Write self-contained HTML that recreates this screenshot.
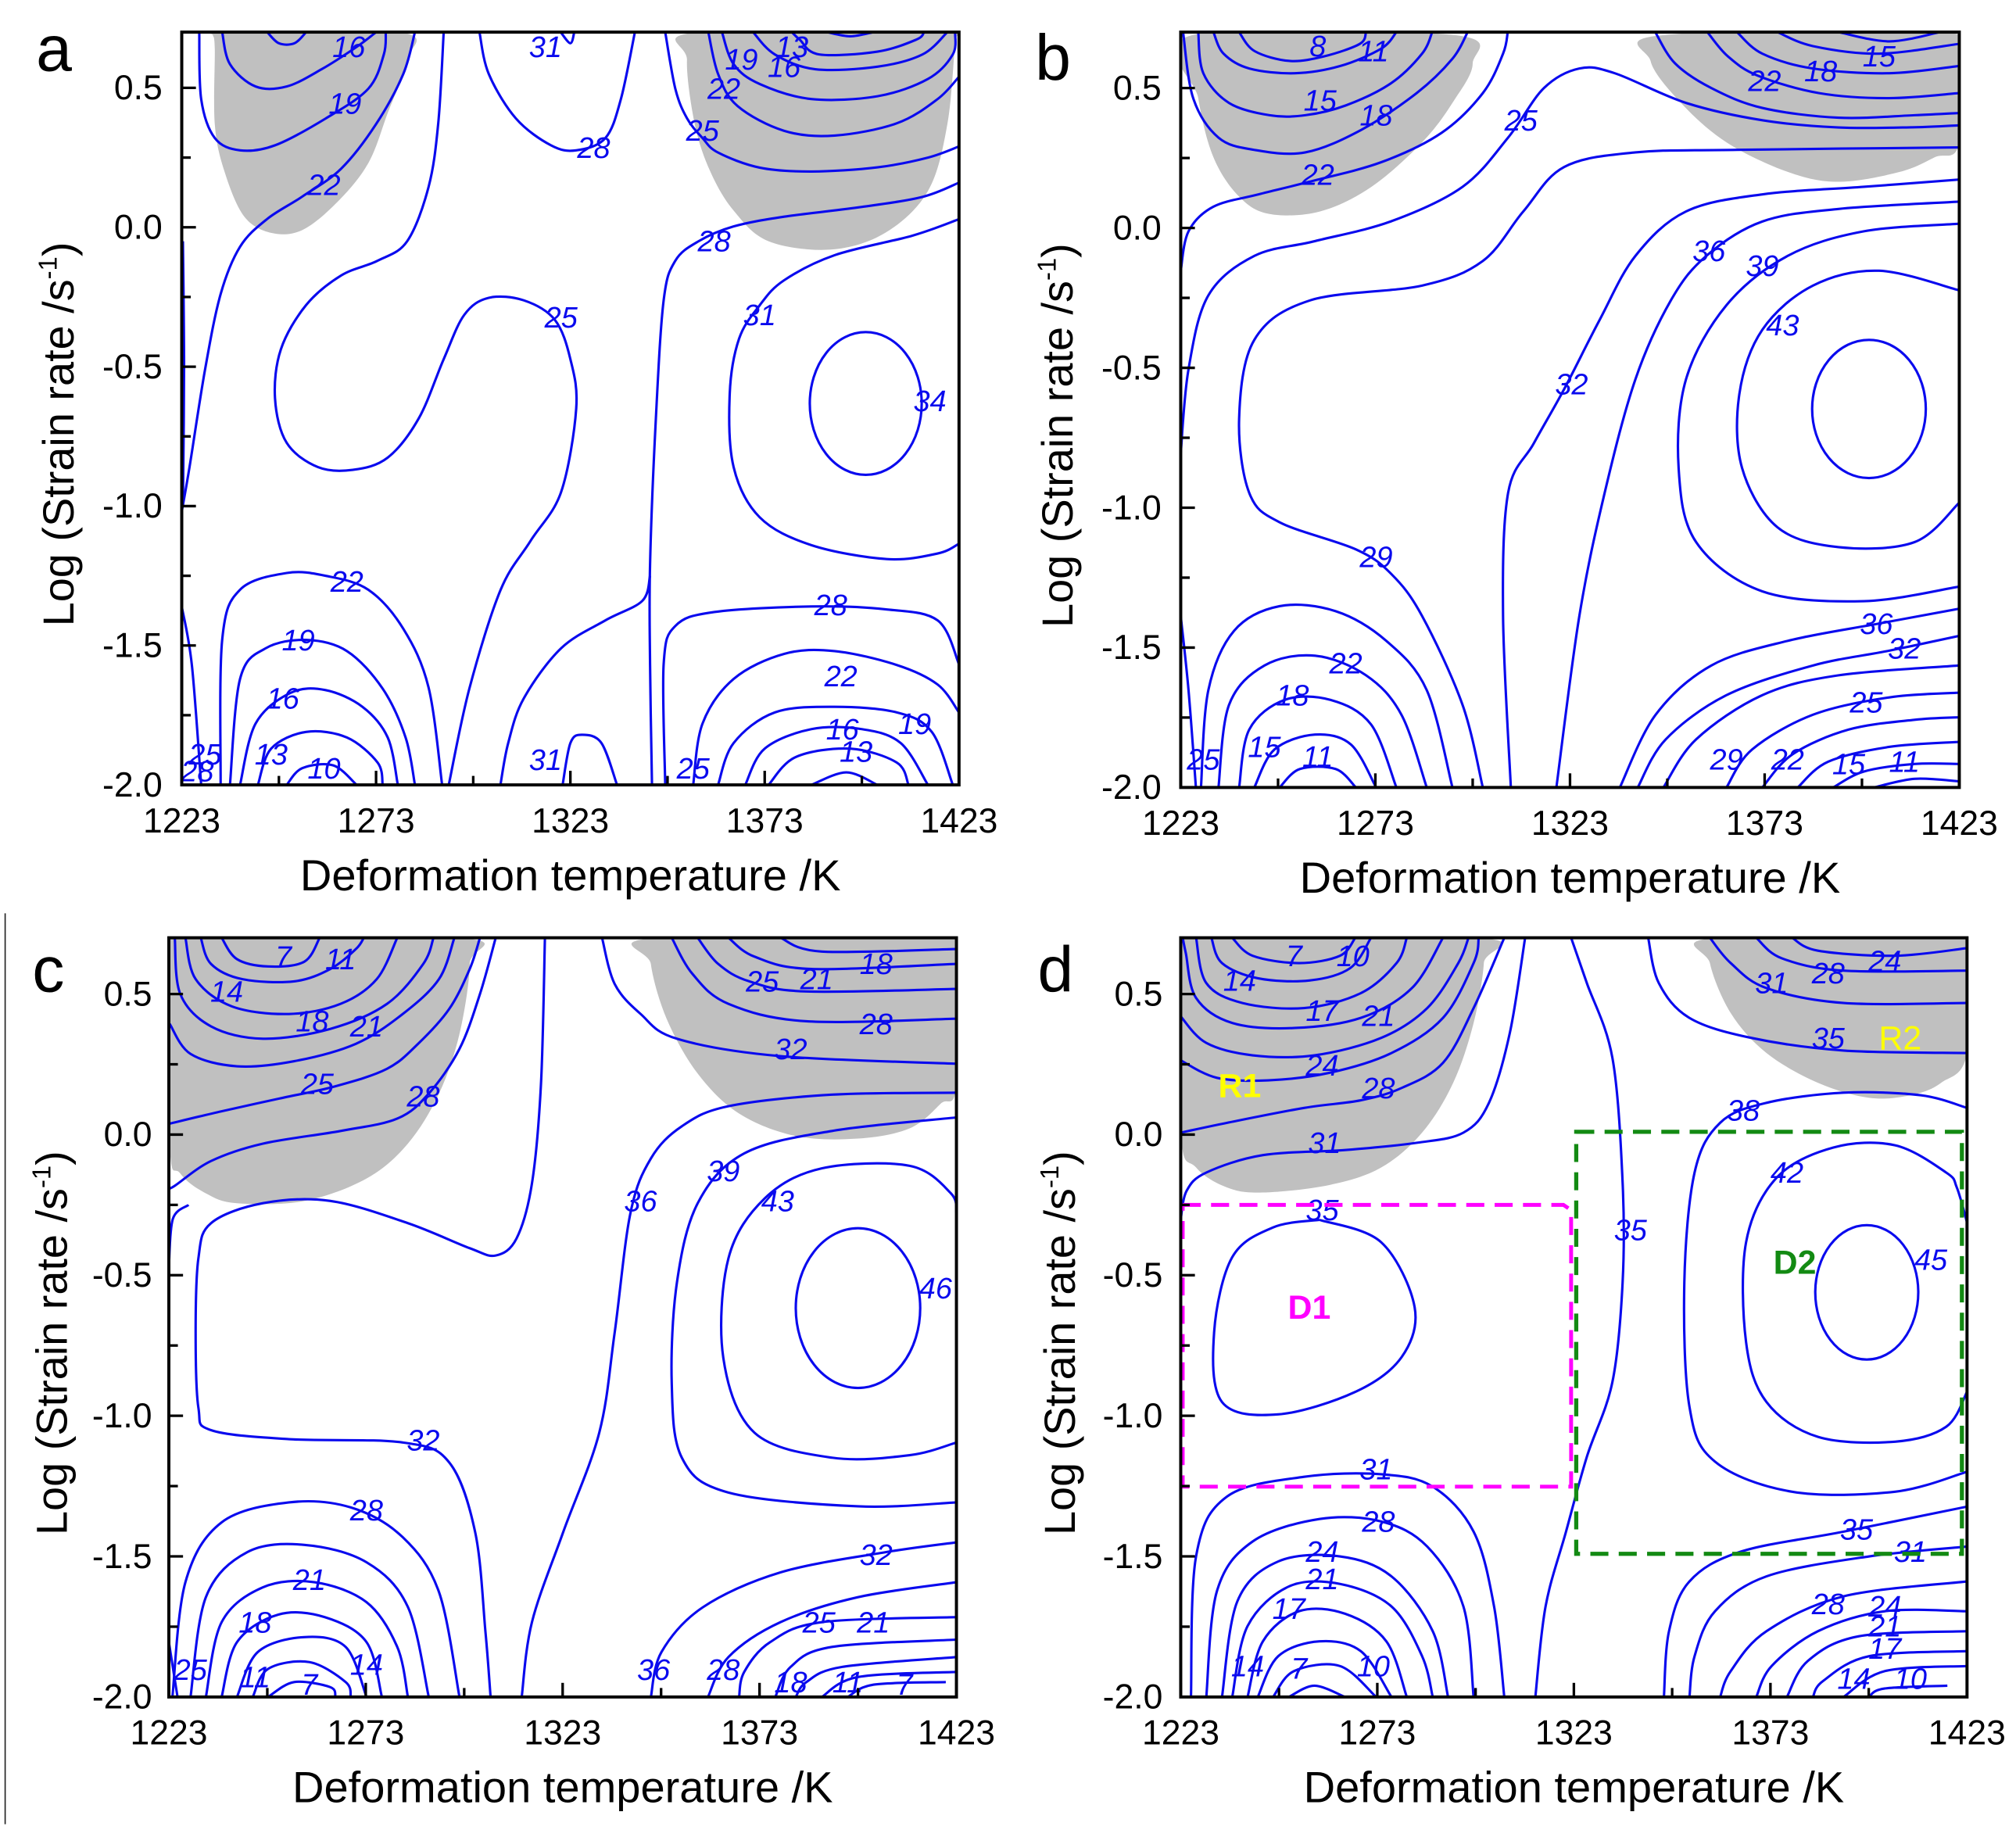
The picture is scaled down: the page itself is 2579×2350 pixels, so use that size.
<!DOCTYPE html>
<html><head><meta charset="utf-8"><title>Processing maps</title>
<style>
html,body{margin:0;padding:0;background:#fff;}
svg{display:block;}
text{font-family:"Liberation Sans",Arial,sans-serif;}
</style></head>
<body>
<svg id="fig" xmlns="http://www.w3.org/2000/svg" width="2579" height="2350" viewBox="0 0 1564 1430" preserveAspectRatio="none">
<rect x="0" y="0" width="1564" height="1430" fill="#fff"/>
<line x1="4" y1="711" x2="4" y2="1420" stroke="#222" stroke-width="1"/>
</svg>
<script>
// ---------- shared axis data ----------
const xTickLabels = ["1223","1273","1323","1373","1423"];
const xMajorTicks = [1223,1273,1323,1373,1423];
const xMinorTicks = [1248,1298,1348,1398];
const yTickLabels = ["0.5","0.0","-0.5","-1.0","-1.5","-2.0"];
const yMajorTicks = [0.5,0.0,-0.5,-1.0,-1.5,-2.0];
const yMinorTicks = [0.25,-0.25,-0.75,-1.25,-1.75];

// ---------- panel a ----------
const aGray = [
 [[1231,0.69],[1231.5,0.64],[1231.5,0.37],[1234,0.2],[1239,0.04],[1246,-0.02],[1254,-0.01],[1263,0.09],[1271,0.23],[1276,0.41],[1281,0.6],[1279,0.7],[1231,0.7]],
 [[1353,0.6],[1355,0.37],[1359,0.2],[1365,0.06],[1374,-0.05],[1390,-0.08],[1404,-0.02],[1415,0.13],[1420,0.37],[1422,0.67],[1422,0.7],[1356,0.7]]
];
const aLines = [
 [[1245,0.7],[1248,0.66],[1252,0.66],[1255,0.7]],
 [[1233.4,0.7],[1235.4,0.585],[1242,0.505],[1250,0.505],[1259,0.567],[1268,0.647],[1273,0.7]],
 [[1227.5,0.7],[1228,0.46],[1231.5,0.32],[1238,0.276],[1247,0.294],[1260,0.39],[1271,0.497],[1275,0.62],[1275.5,0.7]],
 [[1223,-1.02],[1225,-0.86],[1229,-0.51],[1233,-0.24],[1238,-0.07],[1245,0.03],[1254,0.11],[1264,0.21],[1273,0.37],[1280,0.55],[1283,0.7]],
 [[1290.4,0.7],[1289,0.373],[1286.5,0.144],[1281,-0.05],[1273.4,-0.12],[1264,-0.173],[1255,-0.279],[1248.5,-0.438],[1247,-0.614],[1250,-0.773],[1258,-0.86],[1267,-0.87],[1276,-0.826],[1284,-0.685],[1290.4,-0.473],[1295.7,-0.314],[1302,-0.253],[1311,-0.262],[1319,-0.332],[1323,-0.473],[1324.5,-0.65],[1320.6,-0.95],[1312.7,-1.126],[1305,-1.302],[1297,-1.655],[1291.7,-2.0]],
 [[1320.5,0.7],[1323,0.66],[1324,0.7]],
 [[1299.6,0.7],[1302,0.55],[1309,0.39],[1318,0.294],[1324.5,0.276],[1332,0.32],[1336,0.46],[1339.6,0.7]],
 [[1347.4,0.7],[1350,0.497],[1353,0.391],[1357,0.32],[1361,0.268],[1371.7,0.214],[1385,0.2],[1402,0.215],[1415,0.25],[1423,0.29]],
 [[1358.5,0.7],[1361,0.55],[1366,0.435],[1378,0.346],[1391,0.329],[1407,0.373],[1417.5,0.46],[1423,0.54]],
 [[1362,0.7],[1365,0.585],[1371.7,0.514],[1385,0.46],[1402,0.47],[1415,0.532],[1421.4,0.62],[1422,0.7]],
 [[1370,0.7],[1375.6,0.62],[1386,0.567],[1402,0.576],[1413.6,0.62],[1420,0.7]],
 [[1380,0.7],[1382,0.673],[1387,0.62],[1402,0.63],[1412,0.673],[1414,0.7]],
 [[1389,0.7],[1395,0.685],[1401,0.7]],
 [[1344,-2.0],[1343.5,-1.567],[1343.5,-1.21],[1345,-0.685],[1347,-0.262],[1350,-0.12],[1356,-0.05],[1365,0.003],[1378,0.038],[1398,0.073],[1413.6,0.109],[1423,0.16]],
 [[1423,0.029],[1411,-0.03],[1391,-0.1],[1378,-0.19],[1371.7,-0.28],[1366.4,-0.4],[1364,-0.597],[1365,-0.86],[1371.7,-1.04],[1385,-1.14],[1404.4,-1.19],[1417.5,-1.17],[1423,-1.135]],
 [[1343.5,-1.25],[1341.5,-1.34],[1332,-1.41],[1320.6,-1.51],[1311,-1.69],[1307,-1.85],[1305,-2.0]],
 [[1347.4,-2.0],[1347,-1.567],[1350,-1.43],[1360,-1.38],[1385,-1.36],[1404,-1.37],[1417.5,-1.41],[1423,-1.567]],
 [[1354.6,-2.0],[1357,-1.78],[1365,-1.62],[1378,-1.53],[1391,-1.52],[1407,-1.57],[1417.5,-1.64],[1423,-1.74]],
 [[1361,-2.0],[1365,-1.85],[1375.6,-1.74],[1391,-1.72],[1407,-1.74],[1416,-1.81],[1421.4,-2.0]],
 [[1368,-2.0],[1373,-1.87],[1385,-1.8],[1398,-1.8],[1408,-1.85],[1415,-2.0]],
 [[1374,-2.0],[1381,-1.9],[1395,-1.87],[1407,-1.92],[1410,-2.0]],
 [[1385,-2.0],[1394,-1.955],[1402,-2.0]],
 [[1321,-2.0],[1323,-1.85],[1326,-1.82],[1331,-1.85],[1335,-2.0]],
 [[1233,-2.0],[1233.4,-1.48],[1238,-1.3],[1250,-1.24],[1260,-1.25],[1271,-1.3],[1280,-1.44],[1286.5,-1.65],[1290,-2.0]],
 [[1235.4,-2.0],[1238,-1.62],[1244.6,-1.51],[1255,-1.48],[1265.5,-1.52],[1274.7,-1.655],[1280.6,-1.83],[1283,-2.0]],
 [[1238,-2.0],[1242,-1.78],[1251,-1.67],[1260,-1.66],[1269.5,-1.72],[1276,-1.83],[1278.6,-2.0]],
 [[1242.6,-2.0],[1246,-1.87],[1255,-1.81],[1265.5,-1.83],[1273.4,-1.92],[1274.7,-2.0]],
 [[1250,-2.0],[1254,-1.94],[1262,-1.93],[1268,-2.0]],
 [[1223,-1.36],[1225.6,-1.57],[1228,-2.0]],
 [[1223.3,-0.05],[1223.6,-0.5],[1223.3,-1.0]]
];
const aLabels = [
 [1266,0.647,"16"],[1265,0.444,"19"],[1259.6,0.153,"22"],[1316.6,0.647,"31"],[1329,0.285,"28"],[1357,0.347,"25"],
 [1367,0.603,"19"],[1380,0.647,"13"],[1378,0.576,"16"],[1362.5,0.497,"22"],[1360,-0.05,"28"],[1320.6,-0.323,"25"],
 [1371.7,-0.314,"31"],[1415.5,-0.623,"34"],[1265.5,-1.27,"22"],[1253,-1.48,"19"],[1249,-1.69,"16"],[1246,-1.89,"13"],
 [1259.6,-1.94,"10"],[1229,-1.89,"25"],[1227,-1.95,"28"],[1316.6,-1.91,"31"],[1354.6,-1.94,"25"],[1390,-1.355,"28"],
 [1392.6,-1.61,"22"],[1411.6,-1.78,"19"],[1393,-1.8,"16"],[1396.5,-1.88,"13"]
];
const aEllipses = [[1399,-0.632,14.4,0.256]];

// ---------- panel b ----------
const bGray = [
 [[1226.2,0.69],[1227.5,0.464],[1231.4,0.253],[1238,0.112],[1245.8,0.05],[1258.8,0.059],[1272,0.147],[1285,0.306],[1292.8,0.447],[1298,0.588],[1292.8,0.69]],
 [[1343.7,0.597],[1351.5,0.447],[1363.2,0.306],[1379,0.2],[1392,0.165],[1407.6,0.2],[1416.7,0.253],[1423,0.306],[1423,0.69],[1347.6,0.69]]
];
const bLines = [
 [[1238,0.7],[1242,0.632],[1251,0.597],[1260,0.614],[1269,0.658],[1270.6,0.7]],
 [[1231.4,0.7],[1234,0.623],[1240.6,0.57],[1252.3,0.553],[1264,0.579],[1274.5,0.641],[1278.4,0.7]],
 [[1227.5,0.7],[1228.8,0.553],[1235.4,0.447],[1245.8,0.403],[1255,0.403],[1265.4,0.438],[1277,0.517],[1285,0.623],[1287.6,0.7]],
 [[1223.6,0.7],[1226.2,0.464],[1232.7,0.323],[1241.9,0.279],[1255,0.27],[1269.3,0.35],[1283.6,0.482],[1292.8,0.605],[1296.7,0.7]],
 [[1223,-0.153],[1225,-0.012],[1231.4,0.076],[1243,0.12],[1256,0.165],[1274.5,0.235],[1290,0.34],[1300.6,0.482],[1305.8,0.623],[1307,0.7]],
 [[1223,-0.805],[1225,-0.505],[1230.1,-0.241],[1241.9,-0.1],[1257.5,-0.047],[1277.1,0.024],[1295.4,0.147],[1307.1,0.323],[1316.3,0.5],[1325.4,0.57],[1334.5,0.553],[1352.8,0.447],[1372.4,0.385],[1392,0.359],[1411.5,0.36],[1423,0.367]],
 [[1344.9,0.7],[1350,0.588],[1359.3,0.5],[1372.4,0.429],[1392,0.394],[1411.5,0.403],[1423,0.411]],
 [[1358.3,0.7],[1363.5,0.614],[1371.3,0.544],[1387,0.482],[1404.9,0.464],[1423,0.482]],
 [[1365.9,0.7],[1372.4,0.623],[1385.4,0.57],[1405,0.553],[1423,0.579]],
 [[1376.3,0.7],[1385.4,0.65],[1402.4,0.623],[1423,0.658]],
 [[1392,0.7],[1405,0.667],[1418,0.7]],
 [[1300.6,-2.0],[1295.4,-1.705],[1285,-1.387],[1277.1,-1.237],[1268,-1.149],[1248.4,-1.052],[1240.6,-0.947],[1238,-0.682],[1241.9,-0.4],[1256.2,-0.259],[1285,-0.206],[1300.6,-0.118],[1311,0.059],[1321.5,0.218],[1339.8,0.27],[1365.9,0.279],[1423,0.288]],
 [[1307.8,-2.0],[1305.8,-1.387],[1307.1,-0.947],[1313.7,-0.77],[1321.5,-0.576],[1330.6,-0.329],[1339.8,-0.1],[1352.8,0.059],[1372.4,0.12],[1398.5,0.147],[1423,0.173]],
 [[1319.5,-2.0],[1325.4,-1.387],[1331.9,-0.947],[1339.8,-0.541],[1348.9,-0.259],[1358,-0.1],[1372.4,0.023],[1392,0.068],[1423,0.094]],
 [[1423,0.015],[1398.5,-0.012],[1378.9,-0.1],[1363.2,-0.276],[1352.8,-0.541],[1350.9,-0.858],[1355.4,-1.123],[1372.4,-1.299],[1398.5,-1.334],[1423,-1.282]],
 [[1423,-0.223],[1402.4,-0.153],[1385.4,-0.206],[1372.4,-0.364],[1366.5,-0.594],[1367.2,-0.858],[1376.3,-1.07],[1392,-1.141],[1411.5,-1.123],[1423,-0.982]],
 [[1335.8,-2.0],[1345,-1.74],[1359.3,-1.564],[1378.9,-1.476],[1402.4,-1.414],[1423,-1.361]],
 [[1340.4,-2.0],[1347.6,-1.828],[1363.2,-1.67],[1385.4,-1.564],[1405,-1.511],[1423,-1.458]],
 [[1347,-2.0],[1355.4,-1.828],[1372.4,-1.67],[1392,-1.599],[1423,-1.564]],
 [[1363.2,-2.0],[1369.8,-1.864],[1385.4,-1.74],[1405,-1.678],[1423,-1.661]],
 [[1372.4,-2.0],[1380.2,-1.881],[1394.6,-1.793],[1411.5,-1.758],[1423,-1.749]],
 [[1381.5,-2.0],[1389.3,-1.908],[1405,-1.855],[1423,-1.837]],
 [[1390.6,-2.0],[1398.5,-1.943],[1411.5,-1.916],[1423,-1.916]],
 [[1401.1,-2.0],[1411.5,-1.969],[1423,-1.978]],
 [[1228.2,-2.0],[1230.1,-1.652],[1236.7,-1.44],[1248.4,-1.352],[1262.8,-1.37],[1275.8,-1.476],[1286.2,-1.652],[1292.8,-2.0]],
 [[1232.7,-2.0],[1235.4,-1.705],[1244.5,-1.564],[1257.5,-1.529],[1270.6,-1.599],[1279.7,-1.74],[1286.2,-2.0]],
 [[1238,-2.0],[1240.6,-1.793],[1249.7,-1.687],[1261.5,-1.687],[1271.9,-1.775],[1278.4,-2.0]],
 [[1241.9,-2.0],[1247.1,-1.864],[1257.5,-1.811],[1266.7,-1.846],[1273.2,-2.0]],
 [[1248.4,-2.0],[1253.6,-1.934],[1262.8,-1.934],[1268,-2.0]],
 [[1223,-1.387],[1225,-1.652],[1226.9,-2.0]]
];
const bLabels = [
 [1258.2,0.65,"8"],[1272.5,0.632,"11"],[1258.8,0.456,"15"],[1273.2,0.403,"18"],[1258.2,0.191,"22"],[1310.4,0.385,"25"],
 [1373,0.526,"22"],[1387.4,0.561,"18"],[1402.4,0.614,"15"],[1358.7,-0.082,"36"],[1372.4,-0.135,"39"],[1377.6,-0.347,"43"],
 [1323.4,-0.558,"32"],[1273.2,-1.176,"29"],[1265.4,-1.555,"22"],[1251.7,-1.67,"18"],[1244.5,-1.855,"15"],[1258.2,-1.89,"11"],
 [1228.8,-1.899,"25"],[1401.7,-1.414,"36"],[1408.9,-1.502,"32"],[1399.1,-1.696,"25"],[1363.2,-1.899,"29"],[1378.9,-1.899,"22"],
 [1394.6,-1.916,"15"],[1408.9,-1.908,"11"]
];
const bEllipses = [[1399.8,-0.647,14.6,0.247]];

// ---------- panel c ----------
const cGray = [
 [[1223.2,0.7],[1223.2,-0.032],[1225.9,-0.138],[1232.4,-0.209],[1240.3,-0.244],[1257.4,-0.236],[1273.2,-0.156],[1283.7,-0.032],[1291.6,0.146],[1296.8,0.358],[1299.4,0.607],[1296.8,0.7]],
 [[1346.7,0.7],[1345.4,0.607],[1349.4,0.412],[1357.3,0.217],[1367.8,0.075],[1382.2,-0.005],[1398,-0.014],[1411.1,0.022],[1419,0.11],[1423,0.181],[1423,0.7]]
];
const cLines = [
 [[1236.4,0.7],[1240.3,0.624],[1248.2,0.598],[1257.4,0.615],[1261.3,0.7]],
 [[1231.1,0.7],[1233.7,0.607],[1241.6,0.553],[1254.8,0.545],[1264,0.589],[1270.5,0.66],[1272.5,0.7]],
 [[1227.2,0.7],[1229.8,0.553],[1239,0.456],[1253.5,0.429],[1266.6,0.465],[1275.8,0.553],[1281,0.7]],
 [[1224.5,0.7],[1225.9,0.5],[1233.7,0.385],[1246.9,0.341],[1264,0.376],[1278.4,0.465],[1287.6,0.607],[1290.2,0.7]],
 [[1223.2,0.394],[1228.5,0.287],[1240.3,0.243],[1254.8,0.261],[1270.5,0.323],[1282.4,0.429],[1291.6,0.553],[1295.5,0.7]],
 [[1223.2,0.039],[1236.4,0.083],[1251,0.128],[1265.3,0.172],[1278.4,0.234],[1286.3,0.323],[1294.2,0.447],[1299.4,0.589],[1302,0.7]],
 [[1223,-0.19],[1224.5,-0.182],[1233.7,-0.094],[1246.9,-0.032],[1266.6,0.013],[1281,0.057],[1289,0.146],[1296.8,0.305],[1302,0.5],[1306,0.7]],
 [[1318.5,0.7],[1317.5,0.181],[1315.2,-0.174],[1311.3,-0.369],[1306,-0.43],[1299.4,-0.404],[1283.7,-0.315],[1264,-0.236],[1246.9,-0.244],[1233.7,-0.315],[1230.5,-0.44],[1229.8,-0.705],[1230.5,-0.971],[1233.7,-1.051],[1253.5,-1.083],[1282.4,-1.095],[1294.2,-1.166],[1300.8,-1.415],[1303.4,-1.769],[1304.7,-2.0]],
 [[1223,-0.47],[1224,-0.3],[1228,-0.25]],
 [[1333,0.7],[1336.2,0.536],[1342.8,0.429],[1352,0.341],[1378.3,0.279],[1423,0.252]],
 [[1350.7,0.7],[1356,0.571],[1365.1,0.465],[1384.9,0.403],[1423,0.412]],
 [[1357.3,0.7],[1362.5,0.607],[1370.4,0.545],[1384.9,0.509],[1423,0.518]],
 [[1365.1,0.7],[1371.7,0.633],[1386.2,0.589],[1423,0.607]],
 [[1378.3,0.7],[1388.8,0.651],[1423,0.66]],
 [[1423,0.149],[1391.4,0.142],[1365.1,0.101],[1353.3,0.03],[1345.4,-0.085],[1340.2,-0.28],[1336.2,-0.705],[1332.3,-1.06],[1323.1,-1.415],[1315.2,-1.734],[1312.6,-2.0]],
 [[1423,-1.308],[1398,-1.322],[1365.1,-1.273],[1353.3,-1.15],[1350.7,-0.883],[1352,-0.528],[1357.3,-0.244],[1369.1,-0.067],[1391.4,0.013],[1423,0.061]],
 [[1423,-1.095],[1411.1,-1.14],[1391.4,-1.149],[1371.7,-1.06],[1363.8,-0.794],[1365.1,-0.44],[1374.3,-0.227],[1388.8,-0.12],[1411.1,-0.111],[1421.6,-0.209],[1423,-0.28]],
 [[1223.9,-2.0],[1227.2,-1.592],[1236.4,-1.379],[1253.5,-1.308],[1269.2,-1.326],[1282.4,-1.432],[1291.6,-1.627],[1296.8,-2.0]],
 [[1228.5,-2.0],[1232.4,-1.645],[1242.9,-1.485],[1257.4,-1.459],[1273.2,-1.521],[1283.7,-1.68],[1289,-2.0]],
 [[1232.4,-2.0],[1236.4,-1.734],[1246.9,-1.61],[1260,-1.592],[1273.2,-1.663],[1281,-1.822],[1283.7,-2.0]],
 [[1236.4,-2.0],[1240.3,-1.805],[1250.8,-1.707],[1262.6,-1.716],[1273.2,-1.805],[1277.1,-2.0]],
 [[1240.3,-2.0],[1245.6,-1.84],[1257.4,-1.787],[1267.9,-1.822],[1273.2,-2.0]],
 [[1244.3,-2.0],[1248.2,-1.9],[1258.7,-1.876],[1267.9,-1.947],[1269.2,-2.0]],
 [[1248.2,-2.0],[1254.8,-1.947],[1264,-1.965],[1265.3,-2.0]],
 [[1223,-1.805],[1225.2,-2.0]],
 [[1423,-1.45],[1404.6,-1.486],[1378.3,-1.557],[1358.6,-1.681],[1348.1,-1.84],[1345.4,-2.0]],
 [[1423,-1.592],[1398,-1.645],[1378.3,-1.734],[1365.1,-1.858],[1359.9,-2.0]],
 [[1423,-1.716],[1388.8,-1.734],[1375.7,-1.805],[1369.1,-1.911],[1367.8,-2.0]],
 [[1423,-1.796],[1391.4,-1.822],[1380.9,-1.893],[1377,-2.0]],
 [[1423,-1.858],[1394,-1.893],[1384.9,-1.947],[1382.2,-2.0]],
 [[1423,-1.911],[1398,-1.929],[1388.8,-2.0]],
 [[1420.3,-1.947],[1402,-1.956],[1395.4,-2.0]]
];
const cLabels = [
 [1252.1,0.633,"7"],[1266.6,0.624,"11"],[1237.7,0.509,"14"],[1259.4,0.403,"18"],[1273.2,0.385,"21"],[1260.7,0.181,"25"],
 [1287.6,0.137,"28"],[1373.7,0.545,"25"],[1387.5,0.553,"21"],[1402.6,0.607,"18"],[1402.6,0.394,"28"],[1380.9,0.305,"32"],
 [1363.8,-0.129,"39"],[1342.8,-0.236,"36"],[1377.6,-0.236,"43"],[1417.7,-0.546,"46"],[1287.6,-1.087,"32"],[1273.2,-1.335,"28"],
 [1258.7,-1.583,"21"],[1244.9,-1.734,"18"],[1273.2,-1.885,"14"],[1244.9,-1.929,"11"],[1258.7,-1.956,"7"],[1228.5,-1.902,"25"],
 [1346.1,-1.902,"36"],[1363.8,-1.902,"28"],[1380.9,-1.947,"18"],[1395.4,-1.947,"11"],[1409.8,-1.956,"7"],[1388.1,-1.734,"25"],
 [1401.9,-1.734,"21"],[1402.6,-1.494,"32"]
];
const cEllipses = [[1398,-0.617,15.8,0.284]];

// ---------- panel d ----------
const dGray = [
 [[1223,0.7],[1223,0.007],[1226.9,-0.117],[1234.8,-0.188],[1243.9,-0.206],[1260.9,-0.179],[1274,-0.117],[1284.4,0.007],[1292.3,0.184],[1297.5,0.397],[1300.1,0.61],[1298.8,0.7]],
 [[1358.9,0.7],[1357.6,0.61],[1362.9,0.432],[1372,0.29],[1385.1,0.184],[1398.1,0.131],[1408.6,0.14],[1416.4,0.184],[1423,0.29],[1423,0.7]]
];
const dLines = [
 [[1236.1,0.7],[1241.3,0.636],[1253.1,0.61],[1263.5,0.636],[1267.4,0.7]],
 [[1230.8,0.7],[1233.5,0.61],[1242.6,0.556],[1255.7,0.548],[1266.1,0.592],[1271.4,0.7]],
 [[1226.9,0.7],[1229.5,0.539],[1238.7,0.468],[1254.4,0.45],[1268.8,0.503],[1277.9,0.61],[1280.5,0.7]],
 [[1223.5,0.7],[1224.3,0.645],[1226.9,0.486],[1236.1,0.397],[1251.8,0.379],[1268.8,0.415],[1281.8,0.521],[1289.7,0.7]],
 [[1223,0.42],[1229.5,0.326],[1241.3,0.282],[1257,0.282],[1274,0.344],[1285.7,0.45],[1293.6,0.61],[1296.2,0.7]],
 [[1223,0.264],[1232.2,0.202],[1245.2,0.193],[1260.9,0.22],[1276.6,0.29],[1289.7,0.415],[1297.5,0.61],[1298.8,0.7]],
 [[1223,0.007],[1234.8,0.042],[1254.4,0.095],[1268.8,0.122],[1279.2,0.166],[1289.7,0.255],[1297.5,0.45],[1305.3,0.7]],
 [[1223,-0.3],[1224.5,-0.2],[1229.5,-0.135],[1243.9,-0.073],[1264.8,-0.055],[1283.1,-0.029],[1294.9,0.007],[1301.4,0.113],[1306.7,0.361],[1310.6,0.7]],
 [[1322.3,0.7],[1326.3,0.539],[1332.8,0.273],[1335.4,-0.171],[1335.4,-0.525],[1332.8,-0.88],[1326.3,-1.146],[1321,-1.412],[1315.8,-1.678],[1313.2,-2.0]],
 [[1258.3,-0.303],[1274,-0.383],[1282.5,-0.614],[1279.2,-0.791],[1267.4,-0.915],[1247.8,-0.995],[1233.5,-0.951],[1231.5,-0.702],[1236.1,-0.436],[1246.5,-0.33],[1258.3,-0.303]],
 [[1341.9,0.7],[1344.6,0.539],[1352.4,0.415],[1368.1,0.344],[1391.6,0.299],[1423,0.29]],
 [[1357.6,0.7],[1362.9,0.61],[1372,0.521],[1391.6,0.468],[1423,0.468]],
 [[1369.4,0.7],[1375.9,0.627],[1391.6,0.583],[1423,0.583]],
 [[1378.5,0.7],[1385.1,0.654],[1404.7,0.636],[1423,0.663]],
 [[1423,0.095],[1411.2,0.14],[1391.6,0.149],[1372,0.113],[1360.2,0.042],[1353.7,-0.135],[1351.1,-0.525],[1352.4,-0.968],[1358.9,-1.163],[1378.5,-1.27],[1404.7,-1.27],[1423,-1.199]],
 [[1423,-0.312],[1420.4,-0.188],[1417.7,-0.135],[1404.7,-0.038],[1389,-0.046],[1374.6,-0.153],[1366.8,-0.383],[1366.8,-0.738],[1372,-0.951],[1385.1,-1.075],[1404.7,-1.092],[1417.7,-1.039],[1423,-0.915]],
 [[1423,-1.323],[1391.6,-1.412],[1365.5,-1.483],[1352.4,-1.589],[1347.2,-1.766],[1345.9,-2.0]],
 [[1423,-1.465],[1398.1,-1.5],[1372,-1.571],[1358.9,-1.695],[1353.7,-1.855],[1352.4,-2.0]],
 [[1423,-1.589],[1391.6,-1.642],[1372,-1.766],[1362.9,-1.908],[1360.2,-2.0]],
 [[1423,-1.695],[1402.1,-1.695],[1385.1,-1.766],[1373.3,-1.89],[1369.4,-2.0]],
 [[1423,-1.766],[1395.5,-1.784],[1382.5,-1.872],[1377.2,-2.0]],
 [[1423,-1.837],[1398.1,-1.855],[1386.4,-1.943],[1383.8,-2.0]],
 [[1423,-1.89],[1402.1,-1.908],[1391.6,-2.0]],
 [[1418,-1.96],[1402,-1.97],[1398,-2.0]],
 [[1225.6,-2.0],[1226.9,-1.5],[1234.8,-1.287],[1254.4,-1.217],[1274,-1.208],[1287.1,-1.252],[1297.5,-1.412],[1302.7,-1.678],[1305.3,-2.0]],
 [[1229.5,-2.0],[1232.2,-1.624],[1241.3,-1.447],[1258.3,-1.367],[1274,-1.376],[1285.7,-1.465],[1294.9,-1.678],[1297.5,-2.0]],
 [[1233.5,-2.0],[1237.4,-1.66],[1247.8,-1.518],[1263.5,-1.5],[1276.6,-1.571],[1287.1,-1.766],[1291,-2.0]],
 [[1236.1,-2.0],[1240,-1.748],[1250.5,-1.607],[1263.5,-1.598],[1276.6,-1.678],[1284.4,-1.855],[1287.1,-2.0]],
 [[1240,-2.0],[1243.9,-1.802],[1253.1,-1.695],[1264.8,-1.704],[1275.3,-1.802],[1280.5,-2.0]],
 [[1242.6,-2.0],[1247.8,-1.855],[1258.3,-1.802],[1268.8,-1.837],[1276.6,-2.0]],
 [[1246.5,-2.0],[1251.8,-1.908],[1263.5,-1.89],[1272.7,-2.0]],
 [[1250.5,-2.0],[1257,-1.96],[1264.8,-2.0]]
];
const dLabels = [
 [1251.8,0.636,"7"],[1266.8,0.636,"10"],[1238,0.548,"14"],[1259,0.441,"17"],[1273.3,0.423,"21"],[1259,0.246,"24"],
 [1273.3,0.166,"28"],[1259.6,-0.029,"31"],[1259,-0.268,"35"],[1337.4,-0.339,"35"],[1373.3,0.539,"31"],[1387.7,0.574,"28"],
 [1402.1,0.618,"24"],[1387.7,0.344,"35"],[1366.1,0.087,"38"],[1377.2,-0.135,"42"],[1413.8,-0.445,"45"],[1272.7,-1.19,"31"],
 [1273.3,-1.376,"28"],[1259,-1.483,"24"],[1259,-1.58,"21"],[1250.5,-1.686,"17"],[1240,-1.89,"14"],[1253.1,-1.899,"7"],
 [1272,-1.89,"10"],[1394.9,-1.403,"35"],[1408.6,-1.483,"31"],[1387.7,-1.669,"28"],[1402.1,-1.678,"24"],[1402.1,-1.748,"21"],
 [1402.1,-1.828,"17"],[1394.2,-1.935,"14"],[1408.6,-1.935,"10"]
];
const dEllipses = [[1397.5,-0.561,13.1,0.239]];
const dRegionText = [[1238,0.175,"R1"],[1406,0.344,"R2"],[1255.7,-0.614,"D1"],[1379.2,-0.454,"D2"]];
const dBoxD1 = [1223.5,1322.3,-0.25,-1.252];
const dBoxD2 = [1323.6,1421.7,0.01,-1.491];

// ---------- drawing ----------
const NS = "http://www.w3.org/2000/svg";
const svg = document.getElementById("fig");
function mk(tag, attrs, parent){
  const e = document.createElementNS(NS, tag);
  for (const k in attrs) e.setAttribute(k, attrs[k]);
  (parent||svg).appendChild(e);
  return e;
}
function smooth(pts, closed){
  if (pts.length < 2) return "";
  let d = "M" + pts[0][0].toFixed(2) + "," + pts[0][1].toFixed(2);
  const n = pts.length;
  for (let i = 0; i < n - 1; i++){
    const p0 = pts[i-1] || (closed ? pts[n-2] : pts[i]);
    const p1 = pts[i], p2 = pts[i+1];
    const p3 = pts[i+2] || (closed ? pts[1] : p2);
    const c1 = [p1[0] + (p2[0]-p0[0])/6, p1[1] + (p2[1]-p0[1])/6];
    const c2 = [p2[0] - (p3[0]-p1[0])/6, p2[1] - (p3[1]-p1[1])/6];
    d += "C" + c1[0].toFixed(2)+","+c1[1].toFixed(2)+" "+c2[0].toFixed(2)+","+c2[1].toFixed(2)+" "+p2[0].toFixed(2)+","+p2[1].toFixed(2);
  }
  return closed ? d + "Z" : d;
}

const BLUE = "#0a0aee";
const panels = [
  {id:"a", x0:141, x1:744, y0:25, y1:611, gray:aGray, lines:aLines, labels:aLabels, ell:aEllipses, letter:[28,55], ytl:126, ytitle:45},
  {id:"b", x0:916, x1:1520, y0:25, y1:613, gray:bGray, lines:bLines, labels:bLabels, ell:bEllipses, letter:[803,62], ytl:901, ytitle:820},
  {id:"c", x0:131, x1:742, y0:730, y1:1321, gray:cGray, lines:cLines, labels:cLabels, ell:cEllipses, letter:[25,772], ytl:118, ytitle:40},
  {id:"d", x0:916, x1:1526, y0:730, y1:1321, gray:dGray, lines:dLines, labels:dLabels, ell:dEllipses, letter:[805,772], ytl:902, ytitle:822}
];

panels.forEach(P => {
  const sx = t => P.x0 + (t - 1223) / 200 * (P.x1 - P.x0);
  const sy = l => P.y1 - (l + 2.0) / 2.7 * (P.y1 - P.y0);
  const g = mk("g", {});
  
  
  const clip = mk("clipPath", {id:"clip-"+P.id}, g);
  mk("rect", {x:P.x0, y:P.y0, width:P.x1-P.x0, height:P.y1-P.y0}, clip);
  const plot = mk("g", {"clip-path":"url(#clip-"+P.id+")"}, g);
  
  

  P.gray.forEach((poly, i) => {
    const pts = poly.map(p => [sx(p[0]), sy(p[1])]);
    pts.push(pts[0]);
    const e = mk("path", {d:smooth(pts, true), fill:"#c0c0c0", stroke:"none"}, plot);
    
    
  });
  P.lines.forEach((ln, i) => {
    const pts = ln.map(p => [sx(p[0]), sy(p[1])]);
    const e = mk("path", {d:smooth(pts, false), fill:"none", stroke:BLUE, "stroke-width":1.9}, plot);
    
    
  });
  P.ell.forEach(el => {
    const e = mk("ellipse", {cx:sx(el[0]), cy:sy(el[1]), rx:el[2]/200*(P.x1-P.x0), ry:el[3]/2.7*(P.y1-P.y0), fill:"none", stroke:BLUE, "stroke-width":1.9}, plot);
    
    
  });
  P.labels.forEach(lb => {
    const e = mk("text", {x:sx(lb[0]), y:sy(lb[1])+8, "text-anchor":"middle", "font-size":23, "font-style":"italic", fill:BLUE}, plot);
    e.textContent = lb[2];
    
    
  });

  if (P.id === "d") {
    const b1 = mk("polyline", {points:[[sx(dBoxD1[0]),sy(dBoxD1[2])],[sx(dBoxD1[1])-6,sy(dBoxD1[2])],[sx(dBoxD1[1]),sy(dBoxD1[2])+4],[sx(dBoxD1[1]),sy(dBoxD1[3])],[sx(dBoxD1[0]),sy(dBoxD1[3])],[sx(dBoxD1[0]),sy(dBoxD1[2])]].map(p=>p.join(",")).join(" "), fill:"none", stroke:"#ff00ff", "stroke-width":3, "stroke-dasharray":"14,8"}, g);
    
    
    const b2 = mk("rect", {x:sx(dBoxD2[0]), y:sy(dBoxD2[2]), width:sx(dBoxD2[1])-sx(dBoxD2[0]), height:sy(dBoxD2[3])-sy(dBoxD2[2]), fill:"none", stroke:"#138a13", "stroke-width":3.2, "stroke-dasharray":"14,8"}, g);
    
    
    const cols = {R1:"#ffff00", R2:"#ffff00", D1:"#ff00ff", D2:"#138a13"};
    dRegionText.forEach(r => {
      const e = mk("text", {x:sx(r[0]), y:sy(r[1])+9, "text-anchor":"middle", "font-size":26, "font-weight": r[2]==="R2" ? "normal" : "bold", fill:cols[r[2]]}, g);
      e.textContent = r[2];
      
      
    });
  }

  const fr = mk("rect", {x:P.x0, y:P.y0, width:P.x1-P.x0, height:P.y1-P.y0, fill:"none", stroke:"#000", "stroke-width":2.4}, g);
  
  

  yMajorTicks.forEach((v, i) => {
    const t = mk("line", {x1:P.x0, x2:P.x0+11, y1:sy(v), y2:sy(v), stroke:"#000", "stroke-width":2}, g);
    
    
    const tl = mk("text", {x:P.ytl, y:sy(v)+9, "text-anchor":"end", "font-size":27, fill:"#000"}, g);
    tl.textContent = yTickLabels[i];
    
    
  });
  yMinorTicks.forEach(v => {
    const t = mk("line", {x1:P.x0, x2:P.x0+7, y1:sy(v), y2:sy(v), stroke:"#000", "stroke-width":2}, g);
    
    
  });
  xMajorTicks.forEach((v, i) => {
    const t = mk("line", {x1:sx(v), x2:sx(v), y1:P.y1, y2:P.y1-11, stroke:"#000", "stroke-width":2}, g);
    
    
    const tl = mk("text", {x:sx(v), y:P.y1+37, "text-anchor":"middle", "font-size":27, fill:"#000"}, g);
    tl.textContent = xTickLabels[i];
    
    
  });
  xMinorTicks.forEach(v => {
    const t = mk("line", {x1:sx(v), x2:sx(v), y1:P.y1, y2:P.y1-7, stroke:"#000", "stroke-width":2}, g);
    
    
  });

  const xt = mk("text", {x:(P.x0+P.x1)/2, y:P.y1+82, "text-anchor":"middle", "font-size":34, fill:"#000"}, g);
  xt.textContent = "Deformation temperature /K";
  
  

  const cy = (P.y0+P.y1)/2 + 20;
  const yt = mk("text", {x:0, y:0, transform:"translate("+(P.ytitle+12)+","+cy+") rotate(-90)", "text-anchor":"middle", "font-size":34, fill:"#000"}, g);
  yt.textContent = "Log (Strain rate /s";
  const sup = mk("tspan", {dy:-13, "font-size":20}, yt);
  sup.textContent = "-1";
  const tail = mk("tspan", {dy:13}, yt);
  tail.textContent = ")";
  
  

  const lt = mk("text", {x:P.letter[0], y:P.letter[1], "font-size":50, fill:"#000"}, g);
  lt.textContent = P.id;
  
  
});
</script>
</body></html>
